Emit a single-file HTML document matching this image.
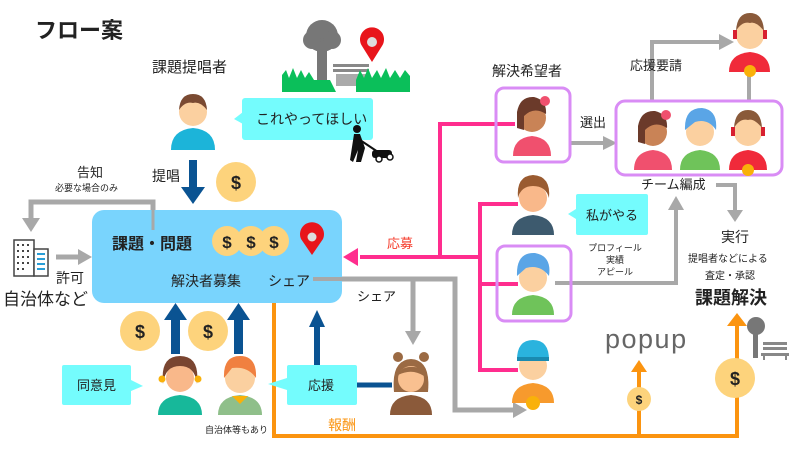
<!DOCTYPE html>
<html><head><meta charset="utf-8"><style>
html,body{margin:0;padding:0;background:#fff}
svg{display:block}
text{font-family:"Liberation Sans","Noto Sans CJK JP",sans-serif;fill:#222}
</style></head><body>
<svg width="800" height="450" viewBox="0 0 800 450" xmlns="http://www.w3.org/2000/svg">
<!-- title -->
<text x="35" y="38" font-size="22" font-weight="bold">フロー案</text>
<text x="152" y="72" font-size="15">課題提唱者</text>

<!-- park -->
<rect x="317" y="45" width="10" height="35" fill="#777"/>
<circle cx="322" cy="36" r="16" fill="#777"/><circle cx="312" cy="40" r="9" fill="#777"/><circle cx="332" cy="40" r="9" fill="#777"/>
<rect x="333" y="64" width="36" height="3" fill="#888"/><rect x="333" y="69" width="36" height="3" fill="#888"/><rect x="336" y="74" width="30" height="12" fill="#aaa"/>
<path d="M282,92 L282,75 L286,70 L289,78 L293,68 L297,78 L301,70 L305,78 L309,72 L314,80 L330,80 L336,92z" fill="#0bbf5a"/>
<path d="M356,92 L356,80 L360,70 L364,78 L368,68 L372,78 L377,70 L381,78 L386,68 L390,78 L395,70 L400,78 L405,70 L410,76 L410,92z" fill="#0bbf5a"/>
<path d="M372,62 L362,46 A12,12 0 1 1 382,46z" fill="#e8151b"/><circle cx="372" cy="42" r="5" fill="#ddd"/>

<!-- bubble 1 -->
<rect x="242" y="98" width="131" height="42" rx="3" fill="#74fcfd"/><path d="M243,112 L234,119 L243,124z" fill="#74fcfd"/>
<text x="256" y="124" font-size="14">これやってほしい</text>
<!-- mower man -->
<circle cx="357" cy="129" r="4" fill="#111"/><path d="M354,134 L360,134 L365,148 L361,162 L356,162 L358,150 L353,162 L350,160z" fill="#111"/><path d="M360,140 L378,152" stroke="#111" stroke-width="2"/><rect x="372" y="150" width="20" height="8" rx="3" fill="#111"/><circle cx="379" cy="159" r="3" fill="#fff" stroke="#111" stroke-width="1.5"/><circle cx="390" cy="157" r="3" fill="#fff" stroke="#111" stroke-width="1.5"/>

<!-- left gray notice -->
<path d="M153,210 L153,202 L31,202 L31,222" fill="none" stroke="#a8a8a8" stroke-width="5"/>
<path d="M22,218 L40,218 L31,232z" fill="#a8a8a8"/>
<text x="77" y="177" font-size="13">告知</text>
<text x="55" y="191" font-size="9">必要な場合のみ</text>
<!-- building -->
<rect x="14" y="240" width="20" height="36" fill="#fff" stroke="#444" stroke-width="1.5"/>
<g fill="#444"><rect x="17" y="244" width="2" height="2"/><rect x="22" y="244" width="2" height="2"/><rect x="27" y="244" width="2" height="2"/><rect x="17" y="250" width="2" height="2"/><rect x="22" y="250" width="2" height="2"/><rect x="27" y="250" width="2" height="2"/><rect x="17" y="256" width="2" height="2"/><rect x="22" y="256" width="2" height="2"/><rect x="27" y="256" width="2" height="2"/><rect x="17" y="262" width="2" height="2"/><rect x="22" y="262" width="2" height="2"/><rect x="27" y="262" width="2" height="2"/><rect x="17" y="268" width="2" height="2"/><rect x="22" y="268" width="2" height="2"/></g>
<rect x="34" y="249" width="14" height="27" fill="#fff" stroke="#444" stroke-width="1.5"/>
<g fill="#2a9fd8"><rect x="37" y="253" width="8" height="2"/><rect x="37" y="258" width="8" height="2"/><rect x="37" y="263" width="8" height="2"/><rect x="37" y="268" width="8" height="2"/></g>
<path d="M56,257 L80,257" stroke="#a8a8a8" stroke-width="5"/><path d="M78,249 L92,257 L78,265z" fill="#a8a8a8"/>
<text x="56" y="283" font-size="14">許可</text>
<text x="3" y="305" font-size="17">自治体など</text>

<!-- 提唱 arrow -->
<text x="152" y="181" font-size="14">提唱</text>
<rect x="189" y="160" width="8" height="28" fill="#0a5392"/><path d="M181,187 L205,187 L193,204z" fill="#0a5392"/>
<circle cx="236" cy="182" r="20" fill="#fdd37c"/><text x="236" y="189" font-size="18" font-weight="bold" text-anchor="middle">$</text>

<!-- gray share line -->
<path d="M313,279 L455,279 L455,410 L515,410" fill="none" stroke="#a8a8a8" stroke-width="5"/>
<path d="M513,402 L527,410 L513,418z" fill="#a8a8a8"/>
<path d="M413,279 L413,333" stroke="#a8a8a8" stroke-width="5"/><path d="M405,331 L421,331 L413,345z" fill="#a8a8a8"/>
<text x="357" y="301" font-size="13">シェア</text>

<!-- orange -->
<path d="M274,303 L274,436 L737,436 L737,325" fill="none" stroke="#fb9410" stroke-width="4"/>
<path d="M727,326 L747,326 L737,313z" fill="#fb9410"/>
<path d="M639,436 L639,370" stroke="#fb9410" stroke-width="4"/><path d="M631,372 L647,372 L639,360z" fill="#fb9410"/>
<text x="328" y="430" font-size="14" style="fill:#fb9410">報酬</text>
<circle cx="639" cy="399" r="12" fill="#fdd37c"/><text x="639" y="404" font-size="12" font-weight="bold" text-anchor="middle">$</text>
<circle cx="735" cy="378" r="20" fill="#fdd37c"/><text x="735" y="385" font-size="18" font-weight="bold" text-anchor="middle">$</text>

<!-- main box -->
<rect x="92" y="210" width="250" height="93" rx="12" fill="#79d4fd"/>
<path d="M153,210 L153,230" stroke="#a8a8a8" stroke-width="3"/>
<text x="112" y="249" font-size="16" font-weight="bold">課題・問題</text>
<circle cx="227" cy="241" r="15" fill="#fdd37c"/><circle cx="251" cy="241" r="15" fill="#fdd37c"/><circle cx="274" cy="241" r="15" fill="#fdd37c"/>
<text x="227" y="248" font-size="17" font-weight="bold" text-anchor="middle">$</text><text x="251" y="248" font-size="17" font-weight="bold" text-anchor="middle">$</text><text x="274" y="248" font-size="17" font-weight="bold" text-anchor="middle">$</text>
<path d="M312,255 L301,239 A12,12 0 1 1 323,239z" fill="#e8151b"/><circle cx="312" cy="237" r="4.5" fill="#ddd"/>
<text x="171" y="286" font-size="14">解決者募集</text>
<text x="268" y="286" font-size="14">シェア</text>
<path d="M313,279 L342,279" stroke="#a8a8a8" stroke-width="4"/>

<!-- bottom coins & arrows -->
<circle cx="140" cy="331" r="20" fill="#fdd37c"/><text x="140" y="338" font-size="18" font-weight="bold" text-anchor="middle">$</text>
<circle cx="208" cy="331" r="20" fill="#fdd37c"/><text x="208" y="338" font-size="18" font-weight="bold" text-anchor="middle">$</text>
<rect x="171" y="318" width="9" height="36" fill="#0a5392"/><path d="M164,320 L187,320 L175.5,303z" fill="#0a5392"/>
<rect x="234" y="318" width="9" height="36" fill="#0a5392"/><path d="M227,320 L250,320 L238.5,303z" fill="#0a5392"/>
<rect x="314" y="326" width="6" height="40" fill="#0a5392"/><path d="M309,327 L325,327 L317,310z" fill="#0a5392"/>
<path d="M357,385 L392,385" stroke="#0a5392" stroke-width="5"/>

<rect x="62" y="365" width="69" height="40" rx="2" fill="#74fcfd"/><path d="M131,380 L143,386 L131,391z" fill="#74fcfd"/>
<text x="77" y="390" font-size="13">同意見</text>
<rect x="287" y="365" width="70" height="40" rx="2" fill="#74fcfd"/><path d="M287,378 L268,384 L287,390z" fill="#74fcfd"/>
<text x="308" y="390" font-size="13">応援</text>
<text x="205" y="433" font-size="9">自治体等もあり</text>

<!-- pink -->
<path d="M360,257 L480,257" stroke="#ff2d8e" stroke-width="4"/>
<path d="M358,248 L343,257 L358,266z" fill="#ff2d8e"/>
<path d="M440,257 L440,124 L515,124" fill="none" stroke="#ff2d8e" stroke-width="4"/>
<path d="M518,204 L480,204 L480,370 L518,370 M480,284 L518,284" fill="none" stroke="#ff2d8e" stroke-width="4"/>
<text x="387" y="248" font-size="13" style="fill:#f53a2a">応募</text>

<!-- right gray -->
<path d="M571,143 L605,143" stroke="#a8a8a8" stroke-width="4"/><path d="M603,136 L617,143 L603,150z" fill="#a8a8a8"/>
<text x="580" y="127" font-size="13">選出</text>
<path d="M652,101 L652,42 L722,42" fill="none" stroke="#a8a8a8" stroke-width="4"/><path d="M719,34 L734,42 L719,50z" fill="#a8a8a8"/>
<path d="M749,73 L749,101" stroke="#a8a8a8" stroke-width="4"/>
<text x="630" y="70" font-size="13">応援要請</text>
<path d="M716,185 L735,185 L735,212" fill="none" stroke="#a8a8a8" stroke-width="4"/><path d="M727,210 L743,210 L735,222z" fill="#a8a8a8"/>
<path d="M555,283 L676,283 L676,208" fill="none" stroke="#a8a8a8" stroke-width="4"/><path d="M668,210 L684,210 L676,196z" fill="#a8a8a8"/>
<text x="641" y="189" font-size="13">チーム編成</text>
<text x="721" y="242" font-size="14">実行</text>
<text x="688" y="262" font-size="10">提唱者などによる</text>
<text x="705" y="279" font-size="10">査定・承認</text>
<text x="695" y="304" font-size="18" font-weight="bold">課題解決</text>
<text x="492" y="76" font-size="14">解決希望者</text>

<rect x="576" y="194" width="72" height="41" rx="2" fill="#74fcfd"/><path d="M576,209 L568,214 L576,219z" fill="#74fcfd"/>
<text x="586" y="220" font-size="13">私がやる</text>
<text x="615" y="251" font-size="9" text-anchor="middle">プロフィール</text>
<text x="615" y="263" font-size="9" text-anchor="middle">実績</text>
<text x="615" y="275" font-size="9" text-anchor="middle">アピール</text>

<text x="605" y="348" font-size="27" style="fill:#666;letter-spacing:1.5px">popup</text>
<!-- tree bench -->
<rect x="753" y="332" width="5" height="26" fill="#777"/><circle cx="756" cy="326" r="9" fill="#777"/>
<rect x="763" y="342" width="24" height="3" fill="#888"/><rect x="763" y="347" width="24" height="3" fill="#888"/><rect x="761" y="353" width="28" height="3" fill="#888"/><rect x="763" y="356" width="2" height="4" fill="#888"/><rect x="785" y="356" width="2" height="4" fill="#888"/>

<!-- purple boxes -->
<rect x="496" y="88" width="74" height="74" rx="8" fill="none" stroke="#d98cf5" stroke-width="3"/>
<rect x="497" y="246" width="74" height="75" rx="8" fill="none" stroke="#d98cf5" stroke-width="3"/>
<rect x="616" y="101" width="166" height="74" rx="9" fill="none" stroke="#d98cf5" stroke-width="3"/>

<!-- avatars -->
<path d="M171,150 Q171,130 193,128 Q215,130 215,150z" fill="#1cb4d9"/><circle cx="193" cy="112" r="14" fill="#fbd0a0"/><path d="M179,110 Q180,94 193,94 Q206,94 207,110 Q200,101 193,103 Q185,101 179,110z" fill="#7a4a32"/>
<path d="M513,156 Q513,138 532,136 Q551,138 551,156z" fill="#f0506e"/><circle cx="532" cy="118" r="14" fill="#c98356"/><path d="M517,128 L517,112 Q520,96 534,97 Q547,100 546,114 Q534,106 524,116 L524,130z" fill="#6b3a2a"/><circle cx="545" cy="101" r="5" fill="#f0506e"/>
<path d="M634,170 Q634,152 653,150 Q672,152 672,170z" fill="#f0506e"/><circle cx="653" cy="132" r="14" fill="#c98356"/><path d="M638,142 L638,126 Q641,110 655,111 Q668,114 667,128 Q655,120 645,130 L645,144z" fill="#6b3a2a"/><circle cx="666" cy="115" r="5" fill="#f0506e"/>
<path d="M680,170 Q680,152 700,150 Q720,152 720,170z" fill="#6fc35a"/><circle cx="700" cy="132" r="14" fill="#fbd0a0"/><path d="M685,130 Q684,108 702,108 Q718,110 716,130 Q708,118 695,122z" fill="#5aa5e6"/>
<path d="M729,170 Q729,152 748,150 Q767,152 767,170z" fill="#f02a3a"/><circle cx="748" cy="170" r="6" fill="#f9b10a"/><circle cx="748" cy="132" r="14" fill="#fbd0a0"/><path d="M734,128 Q735,110 748,110 Q761,110 762,128 Q754,118 748,120 Q740,118 734,128z" fill="#8a5a3a"/><rect x="731" y="127" width="4" height="9" fill="#d82030"/><rect x="761" y="127" width="4" height="9" fill="#d82030"/>
<path d="M729,72 Q729,54 750,52 Q770,54 770,72z" fill="#f02a3a"/><circle cx="750" cy="71" r="6" fill="#f9b10a"/><circle cx="750" cy="35" r="14" fill="#fbd0a0"/><path d="M736,31 Q737,13 750,13 Q763,13 764,31 Q756,21 750,23 Q742,21 736,31z" fill="#8a5a3a"/><rect x="733" y="30" width="4" height="9" fill="#d82030"/><rect x="763" y="30" width="4" height="9" fill="#d82030"/>
<path d="M512,235 Q512,217 533,215 Q554,217 554,235z" fill="#3d5a6e"/><circle cx="533" cy="198" r="14" fill="#f9b88a"/><path d="M518,198 Q516,176 533,175 Q551,176 549,198 Q546,186 533,186 Q521,186 518,198z" fill="#9a5b30"/>
<path d="M512,315 Q512,297 533,295 Q554,297 554,315z" fill="#6fc35a"/><circle cx="533" cy="278" r="14" fill="#fbd0a0"/><path d="M517,276 Q516,252 535,253 Q552,256 549,276 Q540,264 526,268z" fill="#5aa5e6"/>
<path d="M512,403 Q512,385 533,383 Q554,385 554,403z" fill="#f79a2d"/><circle cx="533" cy="403" r="7" fill="#f9b10a"/><circle cx="533" cy="366" r="14" fill="#fbd0a0"/><path d="M517,360 Q517,340 533,340 Q549,340 549,360z" fill="#2ab3de"/><rect x="517" y="357" width="32" height="4" fill="#1a8ab0"/>
<path d="M158,415 Q158,397 180,395 Q202,397 202,415z" fill="#17b89a"/><circle cx="180" cy="378" r="14" fill="#f9b88a"/><path d="M163,384 Q160,356 180,356 Q200,356 197,384 Q195,366 180,366 Q165,366 163,384z" fill="#7a4530"/><circle cx="162" cy="379" r="3.5" fill="#f9b10a"/><circle cx="198" cy="379" r="3.5" fill="#f9b10a"/>
<path d="M218,415 Q218,397 240,395 Q262,397 262,415z" fill="#8fbf8a"/><path d="M232,396 L240,404 L248,396z" fill="#f9b10a"/><circle cx="240" cy="378" r="15" fill="#fbd0a0"/><path d="M224,378 Q223,356 240,356 Q257,356 256,378 Q248,366 232,368z" fill="#f08040"/>
<path d="M390,415 Q390,397 411,395 Q432,397 432,415z" fill="#8b5a3a"/><circle cx="398" cy="357" r="5" fill="#9b6a43"/><circle cx="424" cy="357" r="5" fill="#9b6a43"/><path d="M394,392 Q391,360 411,359 Q431,360 428,392z" fill="#9b6a43"/><circle cx="411" cy="379" r="13" fill="#f9c090"/><path d="M398,375 Q402,364 420,368 Q423,372 424,376 Q412,368 398,375z" fill="#9b6a43"/>
</svg>
</body></html>
